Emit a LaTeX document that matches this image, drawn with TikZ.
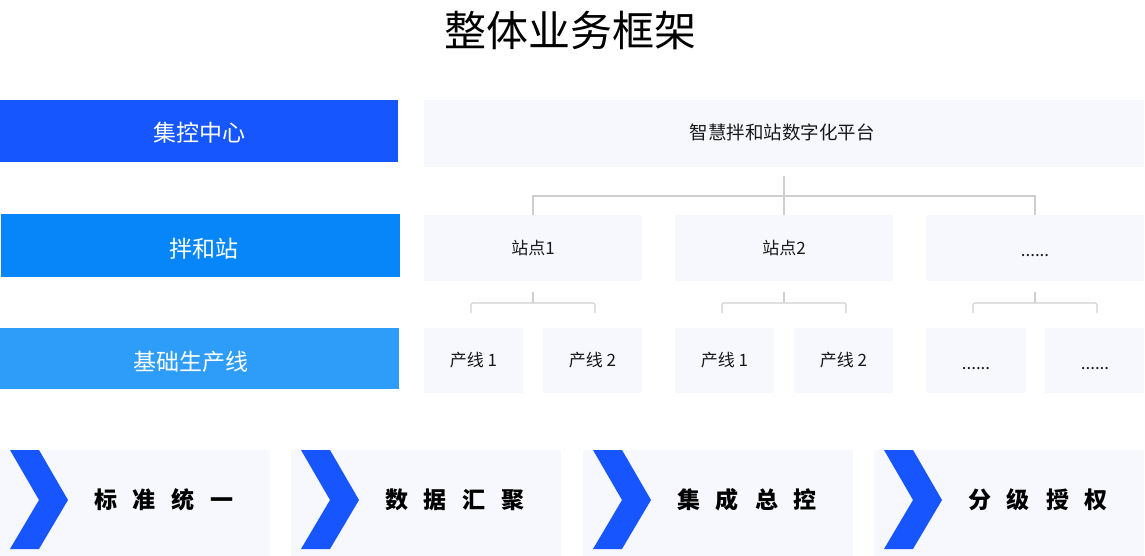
\documentclass[tikz,border=0pt]{standalone}
\usepackage{fontspec}
\setmainfont{Noto Sans CJK SC}
\definecolor{barA}{HTML}{1656FF}
\definecolor{barB}{HTML}{0786F9}
\definecolor{barC}{HTML}{2D9DF9}
\definecolor{boxfill}{HTML}{F6F8FD}
\definecolor{conncol}{HTML}{CFCFCF}
\definecolor{chev}{HTML}{1756FF}
\newcommand{\fs}[1]{\fontsize{#1pt}{#1pt}\selectfont}
\newcommand{\mydots}{\vphantom{站}......}
\begin{document}
\begin{tikzpicture}[x=1pt,y=-1pt,
  rect/.style={draw=none,inner sep=0pt,outer sep=0pt,anchor=north west},
  bar/.style={rect},
  bartext/.style={inner sep=0pt,text=white,font=\fs{23}},
  pbox/.style={rect,fill=boxfill,font=\fs{17},text=black!90},
  conn/.style={draw=conncol,line width=1.3pt},
  bbox/.style={rect,fill=boxfill,minimum width=270pt,minimum height=106pt},
  btext/.style={inner sep=0pt,font=\fs{23}\bfseries,text=black}
]
\useasboundingbox (0,0) rectangle (1145,556);
% title
\node[inner sep=0pt,font=\fs{42}] (title) at (570,31) {整体业务框架};
% left bars
\node[bar,fill=barA,minimum width=398pt,minimum height=62pt] (b1) at (0,100) {};
\node[bar,fill=barB,minimum width=399pt,minimum height=63pt] (b2) at (1,214) {};
\node[bar,fill=barC,minimum width=399pt,minimum height=61pt] (b3) at (0,328) {};
\node[bartext] (t1) at (199,133) {集控中心};
\node[bartext] (t2) at (204,249) {拌和站};
\node[bartext] (t3) at (191,362) {基础生产线};
% platform
\node[pbox,minimum width=720pt,minimum height=67pt] (plat) at (424,100) {};
\node[inner sep=0pt,font=\fs{18.5},text=black!90] (platt) at (782,132) {智慧拌和站数字化平台};
% stations
\node[pbox,minimum width=218pt,minimum height=66pt] (s1) at (424,215) {站点1};
\node[pbox,minimum width=218pt,minimum height=66pt] (s2) at (675,215) {站点2};
\node[pbox,minimum width=218pt,minimum height=66pt] (s3) at (926,215) {};
\node[inner sep=0pt,font=\fs{17},text=black!90] (s3t) at (1035,250) {\mydots};
% lines
\node[pbox,minimum width=99pt,minimum height=65pt] (l11) at (424,328) {产线 1};
\node[pbox,minimum width=99pt,minimum height=65pt] (l12) at (543,328) {产线 2};
\node[pbox,minimum width=99pt,minimum height=65pt] (l21) at (675,328) {产线 1};
\node[pbox,minimum width=99pt,minimum height=65pt] (l22) at (794,328) {产线 2};
\node[pbox,minimum width=100pt,minimum height=65pt] (l31) at (926,328) {};
\node[pbox,minimum width=99pt,minimum height=65pt] (l32) at (1045,328) {};
\node[inner sep=0pt,font=\fs{17},text=black!90] (l31t) at (976,363) {\mydots};
\node[inner sep=0pt,font=\fs{17},text=black!90] (l32t) at (1095,363) {\mydots};
% connectors top
\draw[conn] ([yshift=-9pt]plat.south) -- (s2.north);
\draw[conn] (s1.north) -- ++(0,-19) -| (s3.north);
% braces
\foreach \s in {s1,s2,s3}{
  \draw[conn] ([yshift=-11pt]\s.south) -- ++(0,11);
  \draw[conn,rounded corners=1.5pt] ([xshift=-62pt,yshift=-32pt]\s.south) -- ++(0,-10) -- ++(124,0) -- ++(0,10);
}
% bottom
\foreach \n/\x/\t in {q1/0/{标\hspace{16pt}准\hspace{16pt}统\hspace{16pt}一},
                      q2/291/{数\hspace{16pt}据\hspace{16pt}汇\hspace{16pt}聚},
                      q3/583/{集\hspace{16pt}成\hspace{16pt}总\hspace{16pt}控},
                      q4/874/{分\hspace{16pt}级\hspace{16pt}授\hspace{16pt}权}}{
  \node[bbox] (\n) at (\x,450) {};
  \fill[chev] ([xshift=10pt]\n.north west) -- ++(29,0) -- ++(29,50) -- ++(-29,49) -- ++(-29,0) -- ++(29,-49) -- cycle;
  \node[btext] (\n t) at (\x+164,500) {\t};
}
\end{tikzpicture}
\end{document}
